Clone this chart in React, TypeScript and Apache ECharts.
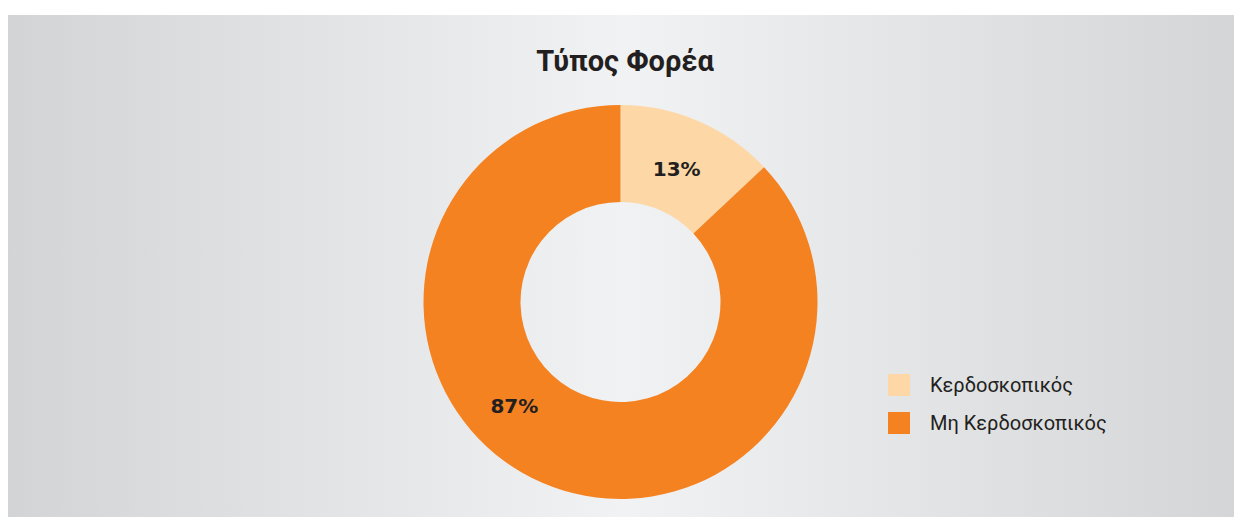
import React, { useEffect, useRef } from "react";
import * as echarts from "echarts";

const titleText = "Τύπος Φορέα";
const categories = ["Κερδοσκοπικός", "Μη Κερδοσκοπικός"];
const values = [13, 87];
const colors = ["#FDD8A6", "#F58220"];

export default function App() {
  const ref = useRef<HTMLDivElement>(null);
  useEffect(() => {
    if (!ref.current) return;
    const chart = echarts.init(ref.current, undefined, { renderer: "svg" });
    const data = categories.map((name, i) => ({
      name,
      value: values[i],
      itemStyle: { color: colors[i] },
      label: i === 1 ? { offset: [-46, -35] } : { offset: [-4, 6] },
    }));
    chart.setOption({
      animation: false,
      backgroundColor: new echarts.graphic.LinearGradient(0, 0, 1, 0, [
        { offset: 0, color: "#D3D4D6" },
        { offset: 0.5, color: "#F1F2F3" },
        { offset: 1, color: "#D4D5D7" },
      ]),
      title: {
        text: titleText,
        left: "center",
        top: 26,
        textStyle: {
          fontFamily: "Roboto",
          fontWeight: "bold",
          fontSize: 29,
          color: "#231F20",
        },
      },
      legend: {
        orient: "vertical",
        left: 875,
        top: 354,
        itemWidth: 22,
        itemHeight: 22,
        itemGap: 16,
        icon: "rect",
        data: categories,
        textStyle: {
          fontFamily: "Roboto",
          fontSize: 20,
          color: "#231F20",
          padding: [0, 0, 0, 15],
        },
      },
      series: [
        {
          type: "pie",
          center: [612.5, 287],
          radius: [100, 197],
          startAngle: 90,
          clockwise: true,
          avoidLabelOverlap: false,
          label: {
            show: true,
            position: "inside",
            formatter: (p: any) => p.value + "%",
            fontFamily: "DejaVu Sans",
            fontWeight: "bold",
            fontSize: 20,
            color: "#231F20",
          },
          labelLine: { show: false },
          emphasis: { disabled: true },
          data,
        },
      ],
    });
    return () => chart.dispose();
  }, []);
  return (
    <div style={{ width: 1234, height: 510 }}>
      <div ref={ref} style={{ width: 1234, height: 502, marginTop: 7 }} />
    </div>
  );
}
